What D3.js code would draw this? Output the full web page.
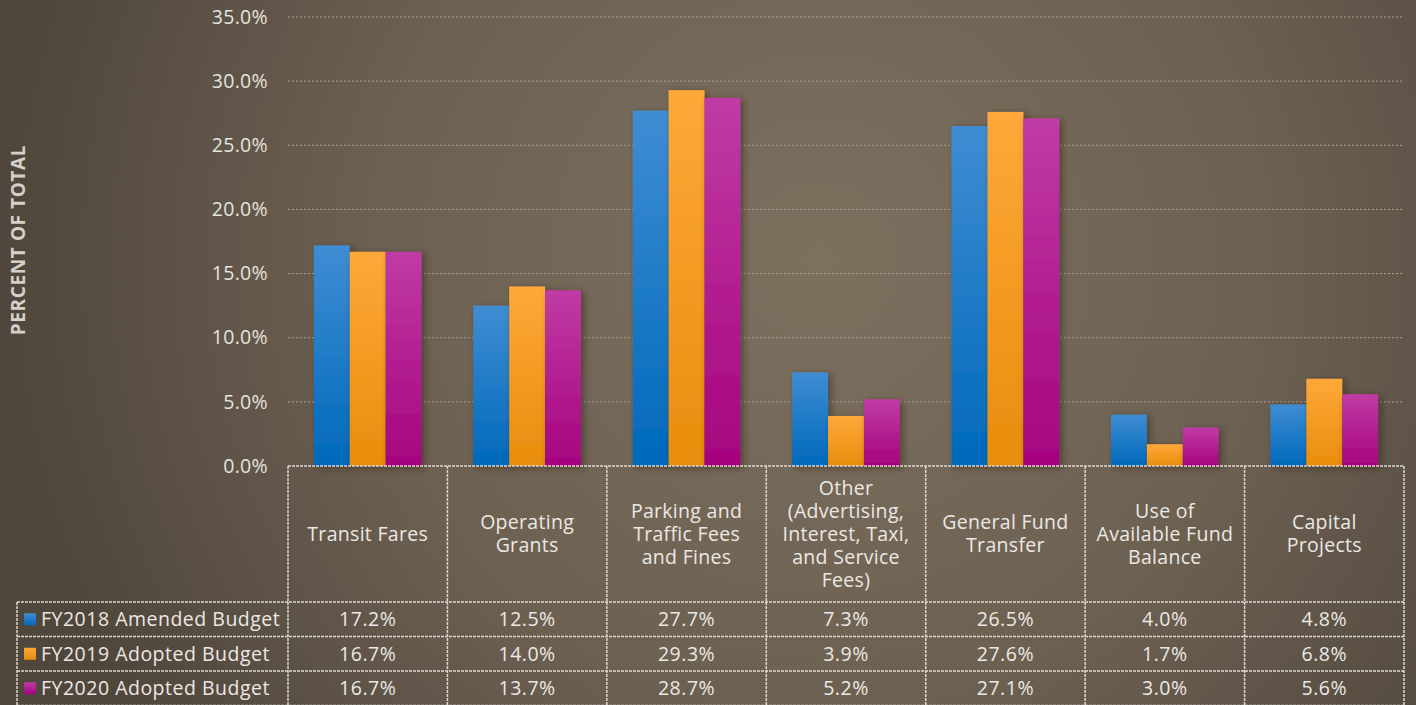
<!DOCTYPE html>
<html>
<head>
<meta charset="utf-8">
<script src="https://cdn.jsdelivr.net/npm/d3@7"></script>
<style>
  body { margin: 0; background: #5a4f44; overflow: hidden; }
  svg { display: block; font-family: "Open Sans", "Noto Sans", sans-serif; }
</style>
</head>
<body>
<svg class="chart"></svg>
<script>
var categories = [
    ["Transit Fares"],
    ["Operating", "Grants"],
    ["Parking and", "Traffic Fees", "and Fines"],
    ["Other", "(Advertising,", "Interest, Taxi,", "and Service", "Fees)"],
    ["General Fund", "Transfer"],
    ["Use of", "Available Fund", "Balance"],
    ["Capital", "Projects"]
];
var seriesNames = ["FY2018 Amended Budget", "FY2019 Adopted Budget", "FY2020 Adopted Budget"];
var fy2018 = [17.2, 12.5, 27.7, 7.3, 26.5, 4.0, 4.8];
var fy2019 = [16.7, 14.0, 29.3, 3.9, 27.6, 1.7, 6.8];
var fy2020 = [16.7, 13.7, 28.7, 5.2, 27.1, 3.0, 5.6];
var yTicks = [0, 5, 10, 15, 20, 25, 30, 35];
var seriesColors = [["#3f8dd3", "#0069bb"], ["#ffa83a", "#e88d0c"], ["#c03ba5", "#a5047e"]];

var width = 1416;
var height = 705;
var plotLeft = 288, plotRight = 1404, plotTop = 17, plotBottom = 466;
var headerBottom = 602, rowH = 34.5, legendLeft = 17;
var fontSize = 19.5;

var series = [fy2018, fy2019, fy2020];

var chart = d3.select(".chart")
    .attr("width", width)
    .attr("height", height);

var defs = chart.append("defs");

var bg = defs.append("radialGradient")
    .attr("id", "bg")
    .attr("gradientUnits", "userSpaceOnUse")
    .attr("cx", 820).attr("cy", 260).attr("r", 820);
bg.append("stop").attr("offset", "0%").attr("stop-color", "#7d705f");
bg.append("stop").attr("offset", "55%").attr("stop-color", "#6c6051");
bg.append("stop").attr("offset", "100%").attr("stop-color", "#4f463c");

seriesColors.forEach(function(c, i) {
    var gr = defs.append("linearGradient")
        .attr("id", "bar" + i)
        .attr("x1", 0).attr("y1", 0).attr("x2", 0).attr("y2", 1);
    gr.append("stop").attr("offset", "0%").attr("stop-color", c[0]);
    gr.append("stop").attr("offset", "100%").attr("stop-color", c[1]);
});

var shadow = defs.append("filter")
    .attr("id", "shadow")
    .attr("x", "-30%").attr("y", "-10%").attr("width", "160%").attr("height", "130%");
shadow.append("feDropShadow")
    .attr("dx", 3).attr("dy", 2)
    .attr("stdDeviation", 3)
    .attr("flood-color", "#2a2119")
    .attr("flood-opacity", 0.5);

chart.append("rect")
    .attr("width", width)
    .attr("height", height)
    .attr("fill", "url(#bg)");

var x = d3.scaleBand()
    .domain(d3.range(categories.length))
    .range([plotLeft, plotRight]);

var xSub = d3.scaleBand()
    .domain(d3.range(series.length))
    .range([0, x.bandwidth()])
    .paddingOuter(0.72)
    .paddingInner(0);

var y = d3.scaleLinear()
    .domain([0, 35])
    .range([plotBottom, plotTop]);

// gridlines
chart.append("g")
    .selectAll("line")
    .data(yTicks.filter(function(d) { return d > 0; }))
    .enter()
    .append("line")
    .attr("x1", plotLeft).attr("x2", plotRight)
    .attr("y1", function(d) { return y(d); })
    .attr("y2", function(d) { return y(d); })
    .attr("stroke", "#aea292")
    .attr("stroke-width", 1)
    .attr("stroke-dasharray", "2,2");

// y axis labels
var yAxis = d3.axisLeft(y)
    .tickValues(yTicks)
    .tickSize(0)
    .tickPadding(0)
    .tickFormat(function(d) { return d3.format(".1f")(d) + "%"; });

var ya = chart.append("g")
    .attr("transform", "translate(268,0)")
    .call(yAxis);
ya.select(".domain").remove();
ya.selectAll("text")
    .attr("fill", "#e6e2dd")
    .attr("font-size", fontSize)
    .attr("letter-spacing", 0.3)
    .attr("font-family", "\"Open Sans\", sans-serif");

chart.append("text")
    .attr("transform", "translate(18,240) rotate(-90)")
    .attr("text-anchor", "middle")
    .attr("dy", "0.35em")
    .attr("fill", "#d6d0ca")
    .attr("font-size", 19)
    .attr("font-weight", "bold")
    .attr("letter-spacing", 0.6)
    .text("PERCENT OF TOTAL");

// bars
var groups = chart.append("g")
    .selectAll("g")
    .data(series)
    .enter()
    .append("g")
    .attr("filter", "url(#shadow)");

groups.selectAll("rect")
    .data(function(d, i) { return d.map(function(v, j) { return { s: i, c: j, v: v }; }); })
    .enter()
    .append("rect")
    .attr("x", function(d) { return x(d.c) + xSub(d.s); })
    .attr("width", xSub.bandwidth())
    .attr("y", function(d) { return y(d.v); })
    .attr("height", function(d) { return y(0) - y(d.v); })
    .attr("fill", function(d) { return "url(#bar" + d.s + ")"; });

// data table
var table = chart.append("g");
var lineStyle = function(sel) {
    return sel.attr("stroke", "#ddd6ce")
        .attr("stroke-width", 1.5)
        .attr("stroke-dasharray", "3,1");
};

var tableBottom = headerBottom + rowH * 3;

table.append("line")
    .attr("x1", plotLeft).attr("x2", plotRight)
    .attr("y1", plotBottom).attr("y2", plotBottom)
    .call(lineStyle);

table.selectAll("line.v")
    .data(d3.range(categories.length + 1))
    .enter()
    .append("line")
    .attr("class", "v")
    .attr("x1", function(d) { return plotLeft + d * x.step(); })
    .attr("x2", function(d) { return plotLeft + d * x.step(); })
    .attr("y1", plotBottom)
    .attr("y2", tableBottom)
    .call(lineStyle);

table.append("line")
    .attr("x1", legendLeft).attr("x2", legendLeft)
    .attr("y1", headerBottom).attr("y2", tableBottom)
    .call(lineStyle);

table.selectAll("line.h")
    .data(d3.range(4))
    .enter()
    .append("line")
    .attr("class", "h")
    .attr("x1", legendLeft).attr("x2", plotRight)
    .attr("y1", function(d) { return headerBottom + d * rowH; })
    .attr("y2", function(d) { return headerBottom + d * rowH; })
    .call(lineStyle);

// category headers, one text per line
var lineH = 23;
var headerLines = [];
categories.forEach(function(lines, i) {
    var cy = (plotBottom + headerBottom) / 2 - (lines.length - 1) * lineH / 2;
    lines.forEach(function(t, k) {
        headerLines.push({ text: t, cat: i, y: cy + k * lineH });
    });
});

table.selectAll("text.cat")
    .data(headerLines)
    .enter()
    .append("text")
    .attr("class", "cat")
    .attr("text-anchor", "middle")
    .attr("fill", "#ece8e3")
    .attr("font-size", fontSize)
    .attr("letter-spacing", 0.3)
    .attr("x", function(d) { return x(d.cat) + x.bandwidth() / 2; })
    .attr("y", function(d) { return d.y; })
    .attr("dy", "0.35em")
    .text(function(d) { return d.text; });

// legend rows and values
var rows = table.selectAll("g.row")
    .data(series)
    .enter()
    .append("g")
    .attr("class", "row")
    .attr("transform", function(d, i) { return "translate(0," + (headerBottom + i * rowH + rowH / 2) + ")"; });

rows.append("rect")
    .attr("x", 24).attr("y", -6)
    .attr("width", 12).attr("height", 12)
    .attr("fill", function(d, i) { return "url(#bar" + i + ")"; });

rows.append("text")
    .attr("x", 41)
    .attr("dy", "0.35em")
    .attr("fill", "#ece8e3")
    .attr("font-size", fontSize)
    .attr("letter-spacing", 0.5)
    .text(function(d, i) { return seriesNames[i]; });

rows.selectAll("text.val")
    .data(function(d) { return d; })
    .enter()
    .append("text")
    .attr("class", "val")
    .attr("x", function(d, j) { return x(j) + x.bandwidth() / 2; })
    .attr("dy", "0.35em")
    .attr("text-anchor", "middle")
    .attr("fill", "#ece8e3")
    .attr("font-size", fontSize)
    .attr("letter-spacing", 0.5)
    .text(function(d) { return d3.format(".1f")(d) + "%"; });
</script>
</body>
</html>
